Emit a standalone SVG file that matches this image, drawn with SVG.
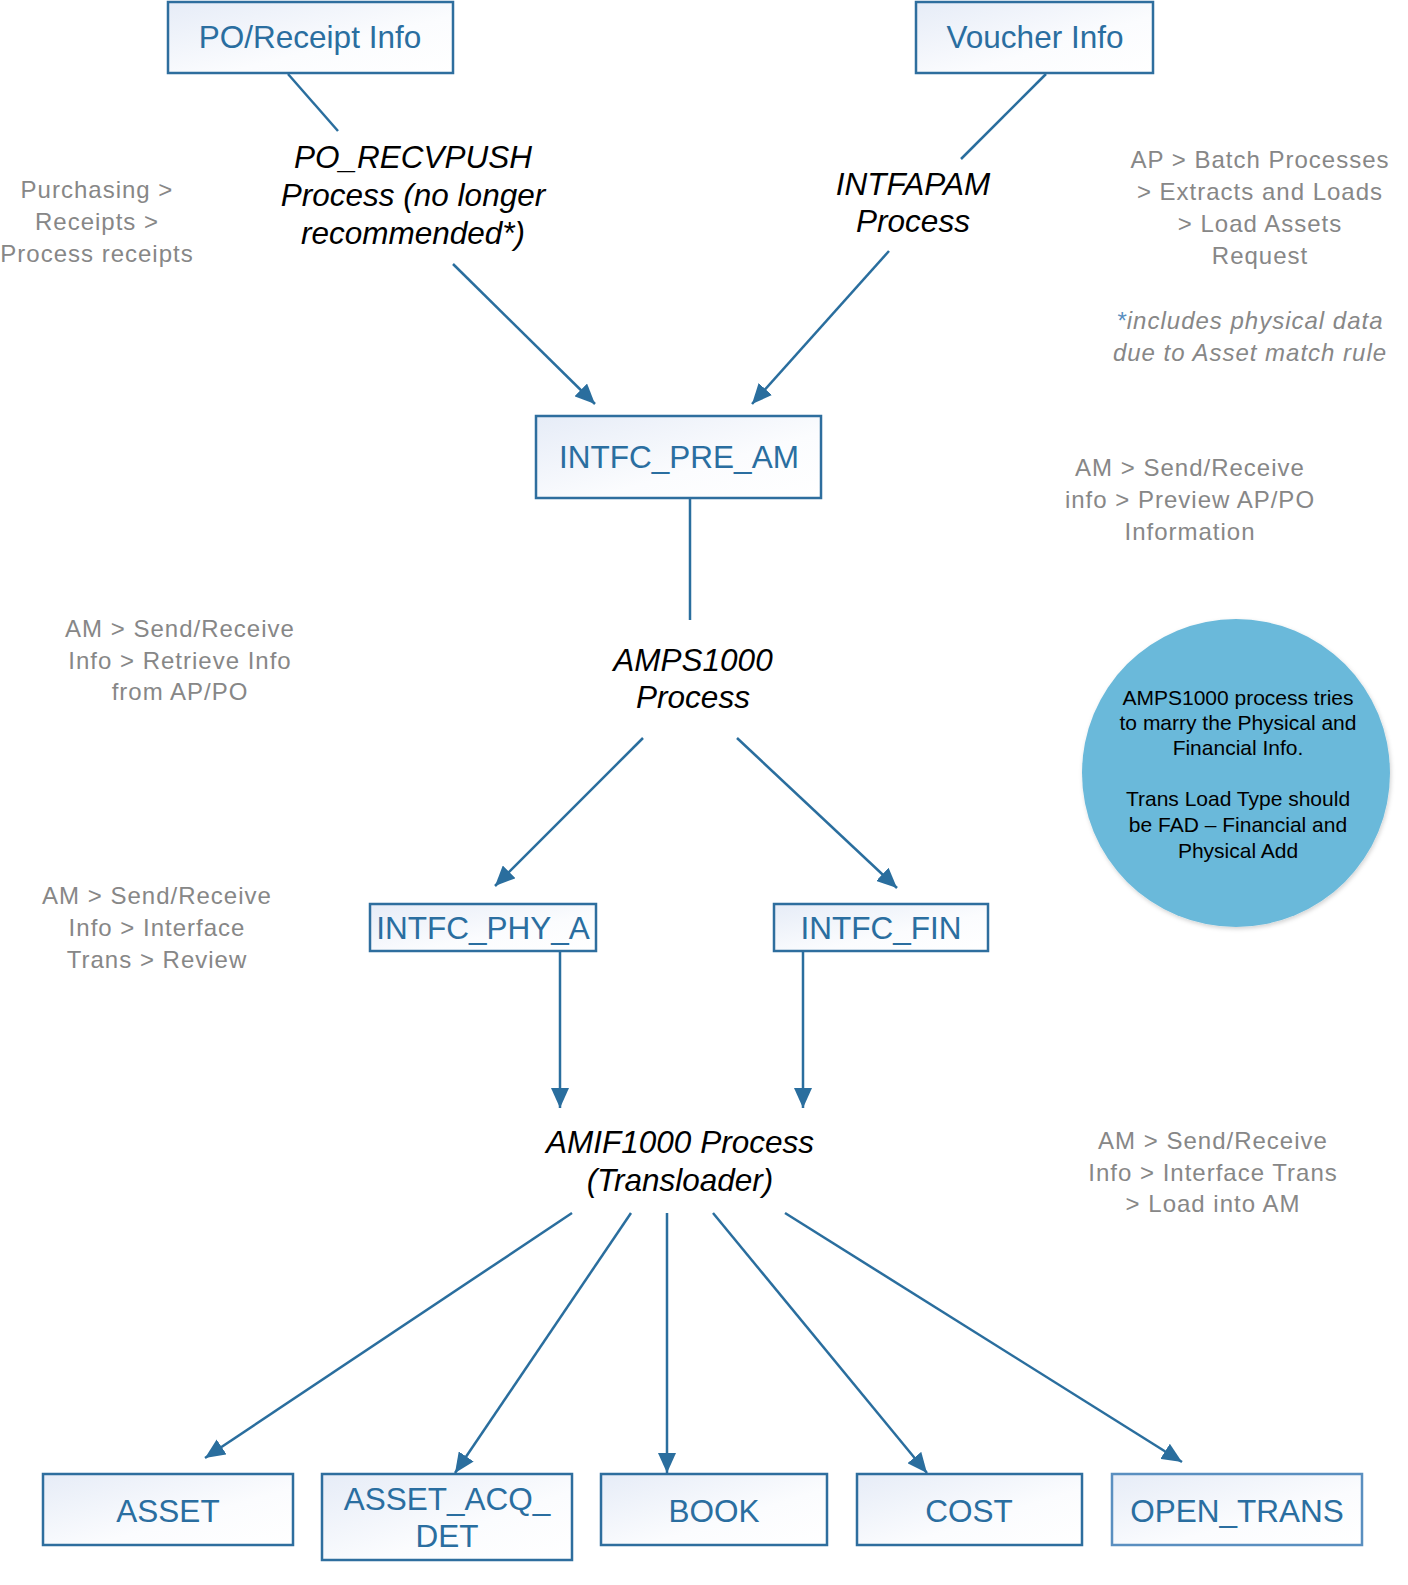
<svg xmlns="http://www.w3.org/2000/svg" width="1408" height="1585" viewBox="0 0 1408 1585">
<defs>
<linearGradient id="boxg" x1="0" y1="0" x2="1" y2="1">
<stop offset="0" stop-color="#e6ecf7"/>
<stop offset="0.6" stop-color="#fbfcfe"/>
<stop offset="1" stop-color="#ffffff"/>
</linearGradient>
<marker id="arr" markerUnits="userSpaceOnUse" markerWidth="22" markerHeight="18" refX="20" refY="9" orient="auto">
<path d="M0,0 L20,9 L0,18 z" fill="#2a6e9e"/>
</marker>
<filter id="sh" x="-10%" y="-10%" width="120%" height="120%">
<feDropShadow dx="1" dy="2" stdDeviation="2" flood-color="#000" flood-opacity="0.18"/>
</filter>
</defs>
<style>
.box{fill:url(#boxg);stroke:#2e6e9e;stroke-width:2.5}
.bt{font-family:"Liberation Sans",Arial,sans-serif;font-size:31.5px;fill:#2a6ea0;text-anchor:middle}
.pt{font-family:"Liberation Sans",Arial,sans-serif;font-size:31.5px;font-style:italic;fill:#000;text-anchor:middle}
.gt{font-family:"Liberation Sans",Arial,sans-serif;font-size:24px;letter-spacing:1px;fill:#878787;text-anchor:middle}
.ct{font-family:"Liberation Sans",Arial,sans-serif;font-size:21px;fill:#000;text-anchor:middle}
.c{stroke:#2a6e9e;stroke-width:2.5;fill:none}
.ca{stroke:#2a6e9e;stroke-width:2.5;fill:none;marker-end:url(#arr)}
</style>
<rect width="1408" height="1585" fill="#fff"/>

<g id="connectors">
<line class="c" x1="288" y1="74" x2="338" y2="131"/>
<line class="c" x1="1046" y1="74" x2="961" y2="159"/>
<line class="ca" x1="453" y1="264" x2="595" y2="404"/>
<line class="ca" x1="889" y1="251" x2="752" y2="404"/>
<line class="c" x1="690" y1="499" x2="690" y2="620"/>
<line class="ca" x1="643" y1="738" x2="495" y2="886"/>
<line class="ca" x1="737" y1="738" x2="897" y2="888"/>
<line class="ca" x1="560" y1="952" x2="560" y2="1108"/>
<line class="ca" x1="803" y1="952" x2="803" y2="1108"/>
<line class="ca" x1="572" y1="1213" x2="205" y2="1458"/>
<line class="ca" x1="631" y1="1213" x2="455" y2="1473"/>
<line class="ca" x1="667" y1="1213" x2="667" y2="1473"/>
<line class="ca" x1="713" y1="1213" x2="927" y2="1473"/>
<line class="ca" x1="785" y1="1213" x2="1182" y2="1462"/>
</g>

<g id="po-receipt-info">
<rect class="box" x="168" y="2" width="285" height="71"/>
<text class="bt" x="310" y="48">PO/Receipt Info</text>
</g>
<g id="voucher-info">
<rect class="box" x="916" y="2" width="237" height="71"/>
<text class="bt" x="1035" y="48">Voucher Info</text>
</g>
<g id="po-recvpush">
<text class="pt" x="413" y="168">PO_RECVPUSH</text>
<text class="pt" x="413" y="206">Process (no longer</text>
<text class="pt" x="413" y="244">recommended*)</text>
</g>
<g id="intfapam">
<text class="pt" x="913" y="195">INTFAPAM</text>
<text class="pt" x="913" y="232">Process</text>
</g>
<g id="intfc-pre-am">
<rect class="box" x="536" y="416" width="285" height="82"/>
<text class="bt" x="679" y="468">INTFC_PRE_AM</text>
</g>
<g id="amps1000">
<text class="pt" x="693" y="671">AMPS1000</text>
<text class="pt" x="693" y="708">Process</text>
</g>
<g id="intfc-phy-a">
<rect class="box" x="370" y="904" width="226" height="47"/>
<text class="bt" x="483" y="939">INTFC_PHY_A</text>
</g>
<g id="intfc-fin">
<rect class="box" x="774" y="904" width="214" height="47"/>
<text class="bt" x="881" y="939">INTFC_FIN</text>
</g>
<g id="amif1000">
<text class="pt" x="680" y="1153">AMIF1000 Process</text>
<text class="pt" x="680" y="1191">(Transloader)</text>
</g>
<g id="asset">
<rect class="box" x="43" y="1474" width="250" height="71"/>
<text class="bt" x="168" y="1522">ASSET</text>
</g>
<g id="asset-acq-det">
<rect class="box" x="322" y="1474" width="250" height="86"/>
<text class="bt" x="447" y="1510">ASSET_ACQ_</text>
<text class="bt" x="447" y="1547">DET</text>
</g>
<g id="book">
<rect class="box" x="601" y="1474" width="226" height="71"/>
<text class="bt" x="714" y="1522">BOOK</text>
</g>
<g id="cost">
<rect class="box" x="857" y="1474" width="225" height="71"/>
<text class="bt" x="969" y="1522">COST</text>
</g>
<g id="open-trans">
<rect class="box" x="1112" y="1474" width="250" height="71" style="stroke:#5a8fc0"/>
<text class="bt" x="1237" y="1522">OPEN_TRANS</text>
</g>

<g id="note-circle">
<circle cx="1236" cy="773" r="154" fill="#6bb9da" filter="url(#sh)"/>
<text class="ct" x="1238" y="705">AMPS1000 process tries</text>
<text class="ct" x="1238" y="730">to marry the Physical and</text>
<text class="ct" x="1238" y="755">Financial Info.</text>
<text class="ct" x="1238" y="806">Trans Load Type should</text>
<text class="ct" x="1238" y="832">be FAD – Financial and</text>
<text class="ct" x="1238" y="858">Physical Add</text>
</g>

<g id="annotations">
<text class="gt" x="97" y="198">Purchasing &gt;</text>
<text class="gt" x="97" y="230">Receipts &gt;</text>
<text class="gt" x="97" y="262">Process receipts</text>

<text class="gt" x="1260" y="168">AP &gt; Batch Processes</text>
<text class="gt" x="1260" y="200">&gt; Extracts and Loads</text>
<text class="gt" x="1260" y="232">&gt; Load Assets</text>
<text class="gt" x="1260" y="264">Request</text>

<text class="gt" x="1250" y="329" font-style="italic"><tspan fill="#5a8fc0">*</tspan>includes physical data</text>
<text class="gt" x="1250" y="361" font-style="italic">due to Asset match rule</text>

<text class="gt" x="1190" y="476">AM &gt; Send/Receive</text>
<text class="gt" x="1190" y="508">info &gt; Preview AP/PO</text>
<text class="gt" x="1190" y="540">Information</text>

<text class="gt" x="180" y="637">AM &gt; Send/Receive</text>
<text class="gt" x="180" y="669">Info &gt; Retrieve Info</text>
<text class="gt" x="180" y="700">from AP/PO</text>

<text class="gt" x="157" y="904">AM &gt; Send/Receive</text>
<text class="gt" x="157" y="936">Info &gt; Interface</text>
<text class="gt" x="157" y="968">Trans &gt; Review</text>

<text class="gt" x="1213" y="1149">AM &gt; Send/Receive</text>
<text class="gt" x="1213" y="1181">Info &gt; Interface Trans</text>
<text class="gt" x="1213" y="1212">&gt; Load into AM</text>
</g>
</svg>
